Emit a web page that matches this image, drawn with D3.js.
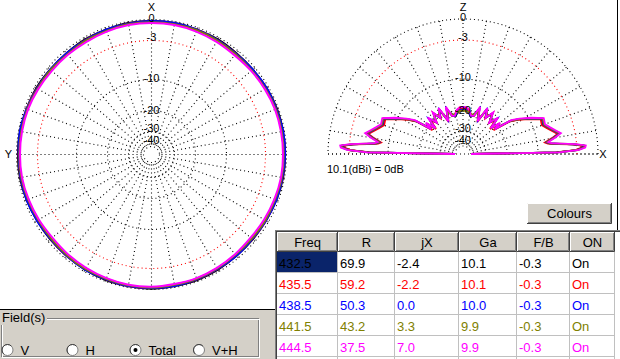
<!DOCTYPE html>
<html><head><meta charset="utf-8">
<script src="https://cdn.jsdelivr.net/npm/d3@7"></script>
<style>
html,body{margin:0;padding:0;background:#fff;overflow:hidden;}
svg{display:block;font-family:"Liberation Sans",Arial,sans-serif;}
</style></head><body>
<svg id="c" width="620" height="359"></svg>
<script>
// ---------- data ----------
const freqs = ["432.5","435.5","438.5","441.5","444.5"];
const resist = [69.9, 59.2, 50.3, 43.2, 37.5];
const react = [-2.4, -2.2, 0.0, 3.3, 7.0];
const gain = [10.1, 10.1, 10.0, 9.9, 9.9];
const fbRatio = [-0.3, -0.3, -0.3, -0.3, -0.3];
const onState = ["On","On","On","On","On"];
const headers = ["Freq","R","jX","Ga","F/B","ON"];
const seriesColors = ["#000000","#ff0000","#0000ff","#808000","#ff00ff"];

const dbTicks = [0, -3, -10, -20, -30, -40];
const dbTickLabels = ["0","-3","-10","-20","-30","-40"];
const fieldOptions = ["V","H","Total","V+H"];
const fieldSelected = "Total";
const refText = "10.1(dBi) = 0dB";

// azimuth (XY plane), degrees counter-clockwise from X (top)
const azAngles = [0,10,20,30,40,50,60,70,80,90,100,110,120,130,140,150,160,170,180,190,200,210,220,230,240,250,260,270,280,290,300,310,320,330,340,350];
const az432 = [-0.2,-0.2,-0.3,-0.3,-0.4,-0.4,-0.3,-0.3,-0.2,-0.2,-0.2,-0.3,-0.4,-0.4,-0.4,-0.3,-0.2,-0.2,-0.1,-0.2,-0.2,-0.3,-0.4,-0.4,-0.4,-0.3,-0.2,-0.2,-0.2,-0.2,-0.3,-0.4,-0.4,-0.3,-0.3,-0.2];
const az435 = [-0.3,-0.3,-0.4,-0.4,-0.5,-0.5,-0.4,-0.3,-0.3,-0.3,-0.3,-0.4,-0.5,-0.5,-0.4,-0.4,-0.3,-0.2,-0.2,-0.3,-0.3,-0.4,-0.5,-0.5,-0.4,-0.4,-0.3,-0.3,-0.3,-0.3,-0.4,-0.5,-0.5,-0.4,-0.3,-0.3];
const az438 = [-0.2,-0.3,-0.3,-0.4,-0.4,-0.4,-0.4,-0.3,-0.2,-0.3,-0.3,-0.3,-0.4,-0.5,-0.4,-0.3,-0.3,-0.2,-0.2,-0.2,-0.3,-0.4,-0.4,-0.5,-0.4,-0.3,-0.3,-0.2,-0.2,-0.3,-0.3,-0.4,-0.5,-0.4,-0.3,-0.2];
const az441 = [-0.4,-0.4,-0.5,-0.5,-0.6,-0.5,-0.5,-0.4,-0.4,-0.4,-0.4,-0.5,-0.6,-0.6,-0.5,-0.4,-0.4,-0.3,-0.3,-0.4,-0.4,-0.5,-0.6,-0.6,-0.5,-0.5,-0.4,-0.4,-0.4,-0.4,-0.5,-0.6,-0.6,-0.5,-0.4,-0.4];
const az444 = [-0.5,-0.5,-0.6,-0.7,-0.7,-0.7,-0.6,-0.5,-0.5,-0.5,-0.5,-0.6,-0.7,-0.8,-0.7,-0.6,-0.5,-0.4,-0.4,-0.5,-0.5,-0.6,-0.7,-0.8,-0.7,-0.6,-0.5,-0.5,-0.5,-0.5,-0.6,-0.7,-0.8,-0.7,-0.6,-0.5];

// elevation (XZ plane), degrees above horizon measured from X (right)
const elAngles = [0,1,2,3,4,5,6,7,8,10,12,14,17,20,24,28,32,35,38,40,43,46,50,54,58,62,66,70,74,78,82,86,90,
  94,98,102,106,110,114,118,122,126,130,134,137,140,142,145,148,152,156,160,163,166,168,170,172,173,174,175,176,177,178,179,180];
const el432 = [-40,-6.6,-3.1,-2.2,-2.1,-3.6,-6.1,-7.9,-8.4,-7.1,-5.9,-6.6,-7.5,-8.2,-8.0,-10.0,-13.1,-15.8,-20.5,-20.0,-22.0,-18.8,-20.2,-18.6,-19.4,-18.4,-23.0,-19.2,-21.0,-22.8,-21.0,-20.2,-20.0,
  -20.2,-21.4,-22.8,-21.0,-19.2,-23.0,-18.4,-19.4,-18.6,-20.2,-18.8,-22.0,-20.0,-20.5,-15.8,-13.1,-10.0,-8.0,-8.2,-7.5,-6.6,-5.9,-7.1,-8.4,-7.9,-6.1,-3.6,-2.1,-2.2,-3.1,-6.6,-40];
const el435 = [-40,-6.8,-3.3,-2.4,-2.3,-3.8,-6.3,-8.1,-8.6,-7.3,-6.1,-6.8,-7.7,-8.4,-8.2,-10.2,-13.4,-16.0,-22.5,-18.8,-23.4,-19.0,-21.6,-17.8,-21.0,-17.8,-24.2,-18.4,-22.2,-22.0,-20.0,-19.4,-19.5,
  -19.4,-20.0,-22.0,-22.2,-18.4,-24.2,-17.8,-21.0,-17.8,-21.6,-19.0,-23.4,-18.8,-22.5,-16.0,-13.4,-10.2,-8.2,-8.4,-7.7,-6.8,-6.1,-7.3,-8.6,-8.1,-6.3,-3.8,-2.3,-2.4,-3.3,-6.8,-40];
const el438 = [-40,-6.5,-3.0,-2.1,-2.0,-3.5,-6.0,-7.8,-8.3,-7.0,-5.8,-6.5,-7.4,-8.1,-7.9,-9.9,-13.0,-15.6,-21.5,-19.0,-22.8,-18.2,-21.2,-18.0,-20.5,-18.0,-23.4,-18.6,-21.8,-22.4,-21.0,-20.0,-19.8,
  -20.0,-21.0,-22.4,-21.8,-18.6,-23.4,-18.0,-20.5,-18.0,-21.2,-18.2,-22.8,-19.0,-21.5,-15.6,-13.0,-9.9,-7.9,-8.1,-7.4,-6.5,-5.8,-7.0,-8.3,-7.8,-6.0,-3.5,-2.0,-2.1,-3.0,-6.5,-40];
const el441 = [-40,-6.4,-2.9,-2.0,-1.9,-3.4,-5.9,-7.7,-8.2,-6.9,-5.7,-6.4,-7.3,-8.0,-7.8,-9.8,-12.9,-15.5,-20.8,-19.8,-22.2,-18.6,-20.6,-18.4,-19.6,-18.2,-22.6,-19.5,-21.4,-21.5,-20.8,-20.4,-20.2,
  -20.4,-20.8,-21.5,-21.4,-19.5,-22.6,-18.2,-19.6,-18.4,-20.6,-18.6,-22.2,-19.8,-20.8,-15.5,-12.9,-9.8,-7.8,-8.0,-7.3,-6.4,-5.7,-6.9,-8.2,-7.7,-5.9,-3.4,-1.9,-2.0,-2.9,-6.4,-40];
const el444 = [-40,-6.2,-2.7,-1.8,-1.7,-3.2,-5.7,-7.5,-8.0,-6.7,-5.5,-6.2,-7.1,-7.8,-7.6,-9.6,-12.7,-15.2,-21.8,-18.5,-23.0,-17.8,-21.4,-17.6,-20.6,-17.4,-23.8,-18.0,-22.0,-22.4,-19.8,-19.0,-19.0,
  -19.0,-19.8,-22.4,-22.0,-18.0,-23.8,-17.4,-20.6,-17.6,-21.4,-17.8,-23.0,-18.5,-21.8,-15.2,-12.7,-9.6,-7.6,-7.8,-7.1,-6.2,-5.5,-6.7,-8.0,-7.5,-5.7,-3.2,-1.7,-1.8,-2.7,-6.2,-40];

const azSeries = [az432, az435, az438, az441, az444];
const elSeries = [el432, el435, el438, el441, el444];

// ---------- drawing ----------
const svg = d3.select("#c");
svg.append("rect").attr("width",620).attr("height",359).attr("fill","#fff");

const rScale = d3.scaleLinear().domain([-40,-30,-20,-10,-3,0]).range([8,23,44,75,114,135]).clamp(true);
const labelR = d3.scaleLinear().domain([-40,-30,-20,-10,-3,0]).range([14,26,44,76.5,117,136.5]);
const rMin = rScale(-40), rMax = rScale(0);
const DOT = "1,3";
const rad = Math.PI/180;

function gridColor(t){ return t === -3 ? "#ff0000" : "#000000"; }

// ----- Azimuth plot -----
const az = svg.append("g").attr("transform","translate(151.5,154.5)");
const spokesAz = d3.range(0,360,10);
az.selectAll("line.sp").data(spokesAz).join("line")
  .attr("x1",d=>(rMin+2)*Math.sin(d*rad)).attr("y1",d=>-(rMin+2)*Math.cos(d*rad))
  .attr("x2",d=>rMax*Math.sin(d*rad)).attr("y2",d=>-rMax*Math.cos(d*rad))
  .attr("stroke","#000").attr("stroke-width",1.1).attr("stroke-dasharray",DOT);
az.selectAll("circle.g").data(dbTicks).join("circle")
  .attr("r",d=>rScale(d)).attr("fill","none").attr("stroke",gridColor)
  .attr("stroke-width",1.1).attr("stroke-dasharray",DOT);

const azLine = d3.lineRadial()
  .angle((d,i)=> -azAngles[i]*rad)
  .radius(d=>rScale(d))
  .curve(d3.curveCardinalClosed);
az.selectAll("path.tr").data(azSeries).join("path")
  .attr("d",d=>azLine(d)).attr("fill","none")
  .attr("stroke",(d,i)=>seriesColors[i]).attr("stroke-width",2);

az.selectAll("text.tk").data(dbTicks).join("text")
  .attr("x",0).attr("y",d=>-labelR(d)).attr("dy","0.36em")
  .attr("text-anchor","middle").attr("font-size",11).attr("fill","#000")
  .text((d,i)=>dbTickLabels[i]);
az.append("text").attr("x",0).attr("y",-147.5).attr("dy","0.36em").attr("text-anchor","middle").attr("font-size",11).text("X");
az.append("text").attr("x",-143).attr("y",0).attr("dy","0.36em").attr("text-anchor","middle").attr("font-size",11).text("Y");

// ----- Elevation plot -----
const el = svg.append("g").attr("transform","translate(463,154)");
const spokesEl = d3.range(0,181,10);
el.selectAll("line.sp").data(spokesEl).join("line")
  .attr("x1",d=>(rMin+2)*Math.cos(d*rad)).attr("y1",d=>-(rMin+2)*Math.sin(d*rad))
  .attr("x2",d=>rMax*Math.cos(d*rad)).attr("y2",d=>-rMax*Math.sin(d*rad))
  .attr("stroke","#000").attr("stroke-width",1.1).attr("stroke-dasharray",DOT);
el.append("line").attr("x1",-rMax).attr("x2",rMax).attr("y1",0).attr("y2",0)
  .attr("stroke","#000").attr("stroke-width",1.1).attr("stroke-dasharray",DOT);
el.selectAll("path.g").data(dbTicks).join("path")
  .attr("d",d=>{ const p=d3.path(); const r=rScale(d); p.moveTo(r,0); p.arc(0,0,r,0,-Math.PI,true); return p.toString(); })
  .attr("fill","none").attr("stroke",gridColor).attr("stroke-width",1.1).attr("stroke-dasharray",DOT);

const elLine = d3.lineRadial()
  .angle((d,i)=> (90-elAngles[i])*rad)
  .radius(d=>rScale(d));
el.selectAll("path.tr").data(elSeries).join("path")
  .attr("d",d=>elLine(d)).attr("fill","none")
  .attr("stroke",(d,i)=>seriesColors[i]).attr("stroke-width",1.8);

el.selectAll("text.tk").data(dbTicks).join("text")
  .attr("x",0).attr("y",d=>-labelR(d)).attr("dy","0.36em")
  .attr("text-anchor","middle").attr("font-size",11).attr("fill","#000")
  .text((d,i)=>dbTickLabels[i]);
el.append("text").attr("x",0).attr("y",-147).attr("dy","0.36em").attr("text-anchor","middle").attr("font-size",11).text("Z");
el.append("text").attr("x",140).attr("y",0).attr("dy","0.36em").attr("text-anchor","middle").attr("font-size",11).text("X");

svg.append("text").attr("x",327).attr("y",169).attr("dy","0.36em").attr("font-size",11).text(refText);

// right border of plot panel
svg.append("line").attr("x1",617.5).attr("x2",617.5).attr("y1",0).attr("y2",230).attr("stroke","#000");

// ----- Colours button -----
function bevel(g,x,y,w,h){
  g.append("rect").attr("x",x).attr("y",y).attr("width",w).attr("height",h).attr("fill","#d4d0c8");
  g.append("path").attr("d",`M${x+0.5},${y+h-1}V${y+0.5}H${x+w-1}`).attr("stroke","#fff").attr("fill","none");
  g.append("path").attr("d",`M${x},${y+h-0.5}H${x+w-0.5}V${y}`).attr("stroke","#404040").attr("fill","none");
  g.append("path").attr("d",`M${x+1},${y+h-1.5}H${x+w-1.5}V${y+1}`).attr("stroke","#808080").attr("fill","none");
}
const btn = svg.append("g");
bevel(btn,527,203,85,21);
btn.append("text").attr("x",569.5).attr("y",213.5).attr("dy","0.36em").attr("text-anchor","middle").attr("font-size",13).text("Colours");

// ----- Table -----
const colX = [277,338,395,459,517,570,615];
const headTop = 232, headH = 20, rowH = 21;
const tbl = svg.append("g");
tbl.append("rect").attr("x",276).attr("y",231).attr("width",344).attr("height",128).attr("fill","#fff");
headers.forEach((h,i)=>{
  bevel(tbl,colX[i],headTop,colX[i+1]-colX[i],headH);
  tbl.append("text").attr("x",(colX[i]+colX[i+1])/2).attr("y",headTop+headH/2+0.5).attr("dy","0.36em")
    .attr("text-anchor","middle").attr("font-size",13).text(h);
});
const rows = freqs.map((f,i)=>[f, resist[i].toFixed(1), react[i].toFixed(1), gain[i].toFixed(1), fbRatio[i].toFixed(1), onState[i]]);
rows.forEach((r,ri)=>{
  const y0 = headTop+headH+ri*rowH;
  if(ri===0) tbl.append("rect").attr("x",colX[0]).attr("y",y0).attr("width",colX[1]-colX[0]).attr("height",rowH).attr("fill","#0a246a");
  r.forEach((v,ci)=>{
    tbl.append("text").attr("x",colX[ci]+2).attr("y",y0+rowH/2+0.5).attr("dy","0.36em")
      .attr("font-size",13).attr("fill",seriesColors[ri]).text(v);
  });
  tbl.append("line").attr("x1",colX[0]).attr("x2",colX[6]).attr("y1",y0+rowH-0.5).attr("y2",y0+rowH-0.5).attr("stroke","#c0c0c0");
});
colX.slice(1).forEach(x=>{
  tbl.append("line").attr("x1",x-0.5).attr("x2",x-0.5).attr("y1",headTop+headH).attr("y2",359).attr("stroke","#c0c0c0");
});
tbl.append("line").attr("x1",275.5).attr("x2",275.5).attr("y1",230).attr("y2",359).attr("stroke","#808080");
tbl.append("line").attr("x1",276.5).attr("x2",276.5).attr("y1",231).attr("y2",359).attr("stroke","#404040");
tbl.append("line").attr("x1",275).attr("x2",620).attr("y1",230.5).attr("y2",230.5).attr("stroke","#808080");
tbl.append("line").attr("x1",276).attr("x2",620).attr("y1",231.5).attr("y2",231.5).attr("stroke","#404040");

// ----- Field(s) panel -----
const fp = svg.append("g");
fp.append("rect").attr("x",0).attr("y",310).attr("width",275).attr("height",49).attr("fill","#d4d0c8");
fp.append("line").attr("x1",0).attr("x2",275).attr("y1",309.5).attr("y2",309.5).attr("stroke","#000");
fp.append("rect").attr("x",1.5).attr("y",318.5).attr("width",257).attr("height",38).attr("fill","none").attr("stroke","#808080");
fp.append("rect").attr("x",2.5).attr("y",319.5).attr("width",257).attr("height",38).attr("fill","none").attr("stroke","#fff");
fp.append("rect").attr("x",1).attr("y",311).attr("width",46).attr("height",14).attr("fill","#d4d0c8");
fp.append("text").attr("x",2).attr("y",317).attr("dy","0.36em").attr("font-size",13).text("Field(s)");
const radioX = [7.5, 72.5, 135.5, 199];
fieldOptions.forEach((o,i)=>{
  const g = fp.append("g").attr("transform",`translate(${radioX[i]},350)`);
  g.append("circle").attr("r",5.5).attr("fill","#fff").attr("stroke","#808080");
  g.append("path").attr("d","M-3.9,3.9A5.5,5.5 0 0 1 3.9,-3.9").attr("fill","none").attr("stroke","#404040");
  if(o===fieldSelected) g.append("circle").attr("r",2).attr("fill","#000");
  fp.append("text").attr("x",radioX[i]+13).attr("y",350).attr("dy","0.36em").attr("font-size",13).text(o);
});
</script>
</body></html>
